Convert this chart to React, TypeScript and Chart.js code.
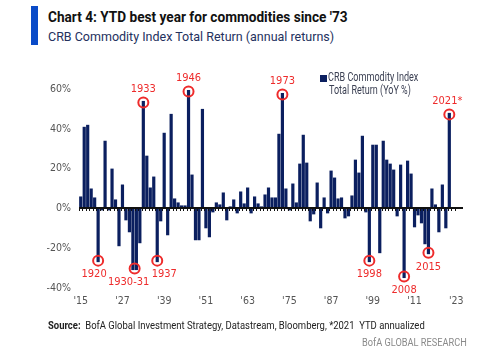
import React, { useEffect, useLayoutEffect, useRef } from "react";
import { Chart, registerables } from "chart.js";

Chart.register(...registerables);

// ---------- data ----------
const firstYear = 1915;
const lastYear = 2023;
const years: number[] = [];
for (let yr = firstYear; yr <= lastYear; yr++) years.push(yr);

// CRB Commodity Index Total Return, YoY %, 1915 … 2021 (2022, 2023 empty)
const returns: (number | null)[] = [
  // 1915-1924
  6, 41, 42, 10, 5.5, -27, -1, 34, -1, 20,
  // 1925-1934
  4.5, -19, 12, -6, -12, -31, -31, -17.5, 54, 26.5,
  // 1935-1944
  10.5, 16, -27, -6.5, 38, -13.5, 47.5, 5, 3, 1.5,
  // 1945-1954
  1.5, 59.5, 17, -16, -16, 50, -10, -14.5, -2, 3,
  // 1955-1964
  2, 8, -6, 1, 4.5, -2.5, 8.5, 2.5, 10.5, -2.5,
  // 1965-1974
  6, 2.5, 1, 7, 10.5, 5.5, 5.5, 37.5, 58, 10,
  // 1975-1984
  -1, 12.5, 3, 22.5, 37, 23, -6.5, -3, 13, -10,
  // 1985-1994
  5.5, -2.5, 19, 15.5, 5, 5.5, -5, -4, 6.5, 24.5,
  // 1995-2004
  18, 36.5, -2, -27, 32, 32, -22.5, 34, 24.5, 22.5,
  // 2005-2014
  19.5, -4, 22, -35, 24, 17.5, -9.5, -3.5, -7.5, -18,
  // 2015-2023
  -23, 10, 2, -12, 12, -10, 48, null, null,
];

const yTicks = [-40, -20, 0, 20, 40, 60];
const xTickEvery = 12;

const calloutYears: number[][] = [
  [1920], [1930, 1931], [1933], [1937], [1946], [1973], [1998], [2008], [2015], [2021],
];
const calloutTexts = ["1920", "1930-31", "1933", "1937", "1946", "1973", "1998", "2008", "2015", "2021*"];

const seriesLine1 = "CRB Commodity Index";
const seriesLine2 = "Total Return (YoY %)";

// ---------- styles ----------
const CANVAS_FONT = '"DejaVu Sans Condensed", "Liberation Sans", sans-serif';
const HTML_FONT = 'Roboto, "Liberation Sans", sans-serif';
const NAVY = "#0b1f5f";
const RED = "#ee2b2b";
const AXIS_GREY = "#555555";
// label horizontal nudges (px) per callout, same order as calloutTexts
const calloutDx = [-4, -6, 0, 7, 0, 0, 0, 0, 0, -2];

const zeroLinePlugin = {
  id: "zeroLine",
  afterDatasetsDraw(chart: any) {
    const { ctx, chartArea, scales } = chart;
    const x = scales.x;
    const y = scales.y;
    const y0 = y.getPixelForValue(0);
    ctx.save();
    ctx.fillStyle = "#111111";
    ctx.fillRect(chartArea.left, Math.round(y0) - 1, chartArea.right + 5 - chartArea.left, 2);
    const step = x.getPixelForValue(1) - x.getPixelForValue(0);
    for (let i = 0; i < years.length; i++) {
      const px = x.getPixelForValue(i) - step / 2;
      ctx.fillRect(Math.round(px), Math.round(y0) + 1, 1, 2);
    }
    ctx.restore();
  },
};

const calloutPlugin = {
  id: "callouts",
  afterDatasetsDraw(chart: any) {
    const { ctx, scales } = chart;
    const x = scales.x;
    const y = scales.y;
    ctx.save();
    calloutYears.forEach((grp, k) => {
      const idxs = grp.map((yr) => years.indexOf(yr));
      const cx = idxs.reduce((s, i) => s + x.getPixelForValue(i), 0) / idxs.length;
      const v = returns[idxs[0]] as number;
      const up = v > 0;
      const cy = y.getPixelForValue(v) + (up ? 1.5 : -1.5);
      ctx.beginPath();
      ctx.arc(cx, cy, 5, 0, Math.PI * 2);
      ctx.strokeStyle = RED;
      ctx.lineWidth = 2;
      ctx.stroke();
      ctx.fillStyle = RED;
      ctx.font = `11px ${CANVAS_FONT}`;
      ctx.textAlign = "center";
      ctx.textBaseline = "middle";
      ctx.fillText(calloutTexts[k], cx + calloutDx[k], cy + (up ? -13 : 14));
    });
    ctx.restore();
  },
};

function FitText(props: { width: number; style: React.CSSProperties; children: React.ReactNode }) {
  const ref = useRef<HTMLDivElement | null>(null);
  useLayoutEffect(() => {
    const el = ref.current;
    if (!el) return;
    const fit = () => {
      el.style.transform = "none";
      const w = el.scrollWidth;
      if (w > 0) el.style.transform = `scaleX(${props.width / w})`;
    };
    fit();
    if ((document as any).fonts && (document as any).fonts.ready) {
      (document as any).fonts.ready.then(fit);
    }
  }, [props.width]);
  return (
    <div
      ref={ref}
      style={{
        position: "absolute",
        whiteSpace: "nowrap",
        transformOrigin: "0 0",
        display: "inline-block",
        ...props.style,
      }}
    >
      {props.children}
    </div>
  );
}

export default function App() {
  const canvasRef = useRef<HTMLCanvasElement | null>(null);

  useEffect(() => {
    if (!canvasRef.current) return;
    const chart = new Chart(canvasRef.current, {
      type: "bar",
      data: {
        labels: years.map(String),
        datasets: [
          {
            label: seriesLine1 + " " + seriesLine2,
            data: returns,
            backgroundColor: NAVY,
            borderWidth: 0,
            barPercentage: 0.92,
            categoryPercentage: 1,
          },
        ],
      },
      options: {
        animation: false,
        responsive: false,
        maintainAspectRatio: false,
        layout: { padding: { left: 0, right: 42, top: 89, bottom: 46 } },
        plugins: {
          legend: { display: false },
          tooltip: { enabled: false },
        },
        scales: {
          x: {
            grid: { display: false, drawTicks: false },
            border: { display: false },
            ticks: {
              autoSkip: false,
              maxRotation: 0,
              minRotation: 0,
              padding: 7,
              color: AXIS_GREY,
              font: { family: CANVAS_FONT, size: 10.5 },
              callback: (_v: any, i: number) =>
                (years[i] - firstYear) % xTickEvery === 0 ? "'" + String(years[i]).slice(2) : "",
            },
            afterFit: (s: any) => {
              s.height = 22;
            },
          },
          y: {
            min: yTicks[0],
            max: yTicks[yTicks.length - 1],
            grid: { display: false, drawTicks: false },
            border: { display: false },
            ticks: {
              stepSize: 20,
              padding: 8,
              color: AXIS_GREY,
              font: { family: CANVAS_FONT, size: 10.5 },
              callback: (v: any) => v + "%",
            },
            afterFit: (s: any) => {
              s.width = 79;
            },
          },
        },
      },
      plugins: [zeroLinePlugin, calloutPlugin],
    });
    return () => chart.destroy();
  }, []);

  return (
    <div
      style={{
        position: "fixed",
        left: 0,
        top: 0,
        width: 500,
        height: 356,
        background: "#ffffff",
        fontFamily: HTML_FONT,
        overflow: "hidden",
      }}
    >
      <div style={{ position: "absolute", left: 31, top: 6, width: 7, height: 39, background: "#0a4bc8" }} />
      <FitText
        width={300}
        style={{ left: 48, top: 9, fontSize: 14.5, lineHeight: "17px", fontWeight: 700, color: "#111111" }}
      >
        Chart 4: YTD best year for commodities since '73
      </FitText>
      <FitText width={286} style={{ left: 48, top: 28, fontSize: 13.5, lineHeight: "16px", color: "#24315e" }}>
        CRB Commodity Index Total Return (annual returns)
      </FitText>
      <canvas ref={canvasRef} width={500} height={356} style={{ position: "absolute", left: 0, top: 0 }} />
      <div style={{ position: "absolute", left: 320, top: 75, width: 7, height: 7, background: NAVY }} />
      <FitText width={90} style={{ left: 328, top: 71, fontSize: 12, lineHeight: "13px", color: "#3a3f52" }}>
        {seriesLine1}
      </FitText>
      <FitText width={82} style={{ left: 329, top: 84, fontSize: 12, lineHeight: "13px", color: "#3a3f52" }}>
        {seriesLine2}
      </FitText>
      <FitText width={377} style={{ left: 48, top: 319, fontSize: 11.5, lineHeight: "13px", color: "#222222" }}>
        <b>Source:</b>&nbsp; BofA Global Investment Strategy, Datastream, Bloomberg, *2021&nbsp; YTD annualized
      </FitText>
      <FitText width={105} style={{ left: 362, top: 336, fontSize: 11.5, lineHeight: "13px", color: "#8a8a8a" }}>
        BofA GLOBAL RESEARCH
      </FitText>
    </div>
  );
}
